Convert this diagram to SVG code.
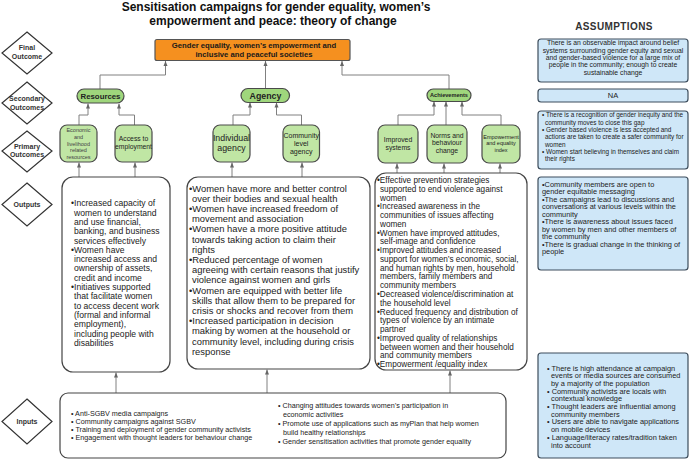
<svg xmlns="http://www.w3.org/2000/svg" width="692" height="460" viewBox="0 0 692 460">
<style>
text{font-family:"Liberation Sans",Arial,sans-serif;fill:#222}
.t{font-weight:bold;font-size:12px;fill:#111}
.dia{fill:#fff;stroke:#333;stroke-width:1.2}
.dl{font-weight:bold;font-size:7px;fill:#333;text-anchor:middle}
.pill{fill:#9fd67c;stroke:#4a4a4a;stroke-width:1.2}
.prim{fill:#c0e6a4;stroke:#4a4a4a;stroke-width:1.2}
.out{fill:#fff;stroke:#444;stroke-width:1.2}
.asm{fill:#cfe7f8;stroke:#3d4d5c;stroke-width:1.2}
.c{text-anchor:middle}
.con path{fill:none;stroke:#808080;stroke-width:1;marker-end:url(#arr)}
</style>
<defs>
<marker id="arr" viewBox="0 0 10 10" refX="10" refY="5" markerWidth="5" markerHeight="5" orient="auto"><path d="M0,1 L10,5 L0,9 z" fill="#666"/></marker>
</defs>
<rect width="692" height="460" fill="#fff"/>
<g id="title">
<text class="t c" x="276" y="11">Sensitisation campaigns for gender equality, women’s</text>
<text class="t c" x="273" y="24.5">empowerment and peace: theory of change</text>
<text class="c" x="614" y="30" style="font-weight:bold;font-size:10px;letter-spacing:0.4px;fill:#333">ASSUMPTIONS</text>
</g>
<g id="level-final"><path class="dia" d="M27,32 L52,53 L27,74 L2,53 Z"/><text class="dl" x="27" y="50">Final</text><text class="dl" x="27" y="59">Outcome</text></g>
<g id="level-secondary"><path class="dia" d="M27,82 L52,103 L27,124 L2,103 Z"/><text class="dl" x="27" y="101">Secondary</text><text class="dl" x="27" y="110">Outcomes</text></g>
<g id="level-primary"><path class="dia" d="M27,131 L52,151 L27,172 L2,151 Z"/><text class="dl" x="27" y="149">Primary</text><text class="dl" x="27" y="157">Outcomes</text></g>
<g id="level-outputs"><path class="dia" d="M27,183 L52,204.5 L27,226 L2,204.5 Z"/><text class="dl" x="27" y="207">Outputs</text></g>
<g id="level-inputs"><path class="dia" d="M27,399 L52,421.5 L27,444 L2,421.5 Z"/><text class="dl" x="27" y="424">Inputs</text></g>

<g class="con" id="connectors">
<path d="M100,89 V75 H165.5 V61"/>
<path d="M265.5,88 V61"/>
<path d="M449,89 V75 H342 V61"/>
<path d="M79,125 V115 H88 V103.5"/>
<path d="M134.5,125 V115 H119 V103.5"/>
<path d="M233,125 V115 H250 V102.5"/>
<path d="M301.5,125 V115 H276.5 V102.5"/>
<path d="M398,125 V115 H434 V101.5"/>
<path d="M446,125 V101.5"/>
<path d="M501,125 V115 H462 V101.5"/>
<path d="M79,177 V162.5"/>
<path d="M135,177 V162.5"/>
<path d="M232,177 V162.5"/>
<path d="M302,177 V162.5"/>
<path d="M397,173 V163.5"/>
<path d="M444,173 V163.5"/>
<path d="M500,173 V163.5"/>
<path d="M116,393 V372.5"/>
<path d="M267,393 V369.5"/>
<path d="M450,393 V370.5"/>
</g>

<g id="final-outcome">
<rect x="155" y="39.5" width="195" height="21" rx="2" fill="#f5901f" stroke="#555" stroke-width="1.2"/>
<text class="c" x="254" y="48" style="font-weight:bold;font-size:7.7px;fill:#1a1a1a">Gender equality, women’s empowerment and</text>
<text class="c" x="254" y="57" style="font-weight:bold;font-size:7.7px;fill:#1a1a1a">inclusive and peaceful societies</text>
</g>

<g id="resources"><rect class="pill" x="77" y="89" width="47" height="14" rx="7"/><text class="c" x="100.5" y="98.8" style="font-weight:bold;font-size:7.8px">Resources</text></g>
<g id="agency"><rect class="pill" x="241" y="88.5" width="48.5" height="14" rx="7"/><text class="c" x="265.5" y="98.8" style="font-weight:bold;font-size:8.8px">Agency</text></g>
<g id="achievements"><rect class="pill" x="427" y="89" width="44" height="12.5" rx="6.25"/><text class="c" x="449" y="97.3" style="font-weight:bold;font-size:5.6px">Achievements</text></g>

<g id="economic-resources"><rect class="prim" x="60" y="125" width="37" height="37" rx="7"/>
<text class="c" x="78.5" y="132" style="font-size:5.5px;fill:#444">Economic</text>
<text class="c" x="78.5" y="138.8" style="font-size:5.5px;fill:#444">and</text>
<text class="c" x="78.5" y="145.6" style="font-size:5.5px;fill:#444">livelihood</text>
<text class="c" x="78.5" y="152.4" style="font-size:5.5px;fill:#444">related</text>
<text class="c" x="78.5" y="159.2" style="font-size:5.5px;fill:#444">resources</text></g>
<g id="access-employment"><rect class="prim" x="115" y="125" width="37" height="37" rx="7"/>
<text class="c" x="133.5" y="140.5" style="font-size:6.8px">Access to</text>
<text class="c" x="133.5" y="148.5" style="font-size:6.8px">employment</text></g>
<g id="individual-agency"><rect class="prim" x="213" y="125" width="37" height="37" rx="7"/>
<text class="c" x="231.5" y="141" style="font-size:8.8px">Individual</text>
<text class="c" x="231.5" y="151" style="font-size:8.8px">agency</text></g>
<g id="community-agency"><rect class="prim" x="283" y="125" width="36.5" height="37" rx="7"/>
<text class="c" x="301.2" y="137.5" style="font-size:7px">Community</text>
<text class="c" x="301.2" y="145.5" style="font-size:7px">level</text>
<text class="c" x="301.2" y="154" style="font-size:7px">agency</text></g>
<g id="improved-systems"><rect class="prim" x="378" y="125" width="40" height="38" rx="7"/>
<text class="c" x="398" y="141.5" style="font-size:6.8px">Improved</text>
<text class="c" x="398" y="149.5" style="font-size:6.8px">systems</text></g>
<g id="norms-change"><rect class="prim" x="427" y="125" width="40" height="38" rx="7"/>
<text class="c" x="447" y="137.5" style="font-size:6.8px">Norms and</text>
<text class="c" x="447" y="145.2" style="font-size:6.8px">behaviour</text>
<text class="c" x="447" y="153" style="font-size:6.8px">change</text></g>
<g id="empowerment-index"><rect class="prim" x="482" y="125" width="38" height="38" rx="7"/>
<text class="c" x="501" y="138.7" style="font-size:5.5px">Empowerment</text>
<text class="c" x="501" y="145.3" style="font-size:5.5px">and equality</text>
<text class="c" x="501" y="151.5" style="font-size:5.5px">index</text></g>

<g id="outputs-resources"><rect class="out" x="62" y="177" width="108" height="195" rx="11"/>
<text style="font-size:8.6px"><tspan x="71" y="206.3">•Increased capacity of</tspan><tspan x="74" dy="9.3">women to understand</tspan><tspan x="74" dy="9.3">and use financial,</tspan><tspan x="74" dy="9.3">banking, and business</tspan><tspan x="74" dy="9.3">services effectively</tspan><tspan x="71" dy="9.3">•Women have</tspan><tspan x="74" dy="9.3">increased access and</tspan><tspan x="74" dy="9.3">ownership of assets,</tspan><tspan x="74" dy="9.3">credit and income</tspan><tspan x="71" dy="9.3">•Initiatives supported</tspan><tspan x="74" dy="9.3">that facilitate women</tspan><tspan x="74" dy="9.3">to access decent work</tspan><tspan x="74" dy="9.3">(formal and informal</tspan><tspan x="74" dy="9.3">employment),</tspan><tspan x="74" dy="9.3">including people with</tspan><tspan x="74" dy="9.3">disabilities</tspan></text></g>

<g id="outputs-agency"><rect class="out" x="187" y="177" width="183" height="192" rx="11"/>
<text style="font-size:9.4px"><tspan x="189" y="191.5">•Women have more and better control</tspan><tspan x="192" dy="10.2">over their bodies and sexual health</tspan><tspan x="189" dy="10.2">•Women have increased freedom of</tspan><tspan x="192" dy="10.2">movement and association</tspan><tspan x="189" dy="10.2">•Women have a more positive attitude</tspan><tspan x="192" dy="10.2">towards taking action to claim their</tspan><tspan x="192" dy="10.2">rights</tspan><tspan x="189" dy="10.2">•Reduced percentage of women</tspan><tspan x="192" dy="10.2">agreeing with certain reasons that justify</tspan><tspan x="192" dy="10.2">violence against women and girls</tspan><tspan x="189" dy="10.2">•Women are equipped with better life</tspan><tspan x="192" dy="10.2">skills that allow them to be prepared for</tspan><tspan x="192" dy="10.2">crisis or shocks and recover from them</tspan><tspan x="189" dy="10.2">•Increased participation in decision</tspan><tspan x="192" dy="10.2">making by women at the household or</tspan><tspan x="192" dy="10.2">community level, including during crisis</tspan><tspan x="192" dy="10.2">response</tspan></text></g>

<g id="outputs-achievements"><rect class="out" x="375" y="173" width="152" height="197" rx="11"/>
<text style="font-size:8.2px"><tspan x="377" y="183">•Effective prevention strategies</tspan><tspan x="380" dy="8.77">supported to end violence against</tspan><tspan x="380" dy="8.77">women</tspan><tspan x="377" dy="8.77">•Increased awareness in the</tspan><tspan x="380" dy="8.77">communities of issues affecting</tspan><tspan x="380" dy="8.77">women</tspan><tspan x="377" dy="8.77">•Women have improved attitudes,</tspan><tspan x="380" dy="8.77">self-image and confidence</tspan><tspan x="377" dy="8.77">•Improved attitudes and increased</tspan><tspan x="380" dy="8.77">support for women’s economic, social,</tspan><tspan x="380" dy="8.77">and human rights by men, household</tspan><tspan x="380" dy="8.77">members, family members and</tspan><tspan x="380" dy="8.77">community members</tspan><tspan x="377" dy="8.77">•Decreased violence/discrimination at</tspan><tspan x="380" dy="8.77">the household level</tspan><tspan x="377" dy="8.77">•Reduced frequency and distribution of</tspan><tspan x="380" dy="8.77">types of violence by an intimate</tspan><tspan x="380" dy="8.77">partner</tspan><tspan x="377" dy="8.77">•Improved quality of relationships</tspan><tspan x="380" dy="8.77">between women and their household</tspan><tspan x="380" dy="8.77">and community members</tspan><tspan x="377" dy="8.77">•Empowerment /equality index</tspan></text></g>

<g id="inputs"><rect class="out" x="60" y="393" width="446" height="65" rx="8"/>
<text style="font-size:7.2px"><tspan x="71" y="415.5">• Anti-SGBV media campaigns</tspan><tspan x="71" dy="8">• Community campaigns against SGBV</tspan><tspan x="71" dy="8">• Training and deployment of gender community activists</tspan><tspan x="71" dy="8">• Engagement with thought leaders for behaviour change</tspan></text>
<text style="font-size:7.2px"><tspan x="278" y="407.5">• Changing attitudes towards women’s participation in</tspan><tspan x="283" dy="9">economic activities</tspan><tspan x="278" dy="9">• Promote use of applications such as myPlan that help women</tspan><tspan x="283" dy="9">build healthy relationships</tspan><tspan x="278" dy="9">• Gender sensitisation activities that promote gender equality</tspan></text></g>

<g id="assumption-final"><rect class="asm" x="538" y="39" width="150" height="43" rx="3"/>
<text class="c" style="font-size:6.8px"><tspan x="613" y="45.3">There is an observable impact around belief</tspan><tspan x="613" dy="7.3">systems surrounding gender equity and sexual</tspan><tspan x="613" dy="7.3">and gender-based violence for a large mix of</tspan><tspan x="613" dy="7.3">people in the community; enough to create</tspan><tspan x="613" dy="7.3">sustainable change</tspan></text></g>
<g id="assumption-secondary"><rect class="asm" x="538" y="89" width="150" height="13" rx="3"/><text class="c" x="613" y="98" style="font-size:7.5px">NA</text></g>
<g id="assumption-primary"><rect class="asm" x="538" y="111" width="150" height="58" rx="3"/>
<text style="font-size:6.4px"><tspan x="542" y="117.3">• There is a recognition of gender inequity and the</tspan><tspan x="545" dy="7.33">community moves to close this gap</tspan><tspan x="542" dy="7.33">• Gender based violence is less accepted and</tspan><tspan x="545" dy="7.33">actions are taken to create a safer community for</tspan><tspan x="545" dy="7.33">women</tspan><tspan x="542" dy="7.33">• Women start believing in themselves and claim</tspan><tspan x="545" dy="7.33">their rights</tspan></text></g>
<g id="assumption-outputs"><rect class="asm" x="538" y="177" width="150" height="93" rx="3"/>
<text style="font-size:7.4px"><tspan x="542" y="186.5">•Community members are open to</tspan><tspan x="542" dy="7.5">gender equitable messaging</tspan><tspan x="542" dy="7.5">•The campaigns lead to discussions and</tspan><tspan x="542" dy="7.5">conversations at various levels within the</tspan><tspan x="542" dy="7.5">community</tspan><tspan x="542" dy="7.5">•There is awareness about issues faced</tspan><tspan x="542" dy="7.5">by women by men and other members of</tspan><tspan x="542" dy="7.5">the community</tspan><tspan x="542" dy="7.5">•There is gradual change in the thinking of</tspan><tspan x="542" dy="7.5">people</tspan></text></g>
<g id="assumption-inputs"><rect class="asm" x="538" y="353" width="150" height="105" rx="3"/>
<text style="font-size:7.4px"><tspan x="547" y="370.5">• There is high attendance at campaign</tspan><tspan x="551" dy="7.7">events or media sources are consumed</tspan><tspan x="551" dy="7.7">by a majority of the population</tspan><tspan x="547" dy="7.7">• Community activists are locals with</tspan><tspan x="551" dy="7.7">contextual knowledge</tspan><tspan x="547" dy="7.7">• Thought leaders are influential among</tspan><tspan x="551" dy="7.7">community members</tspan><tspan x="547" dy="7.7">• Users are able to navigate applications</tspan><tspan x="551" dy="7.7">on mobile devices</tspan><tspan x="547" dy="7.7">• Language/literacy rates/tradition taken</tspan><tspan x="551" dy="7.7">into account</tspan></text></g>
</svg>
